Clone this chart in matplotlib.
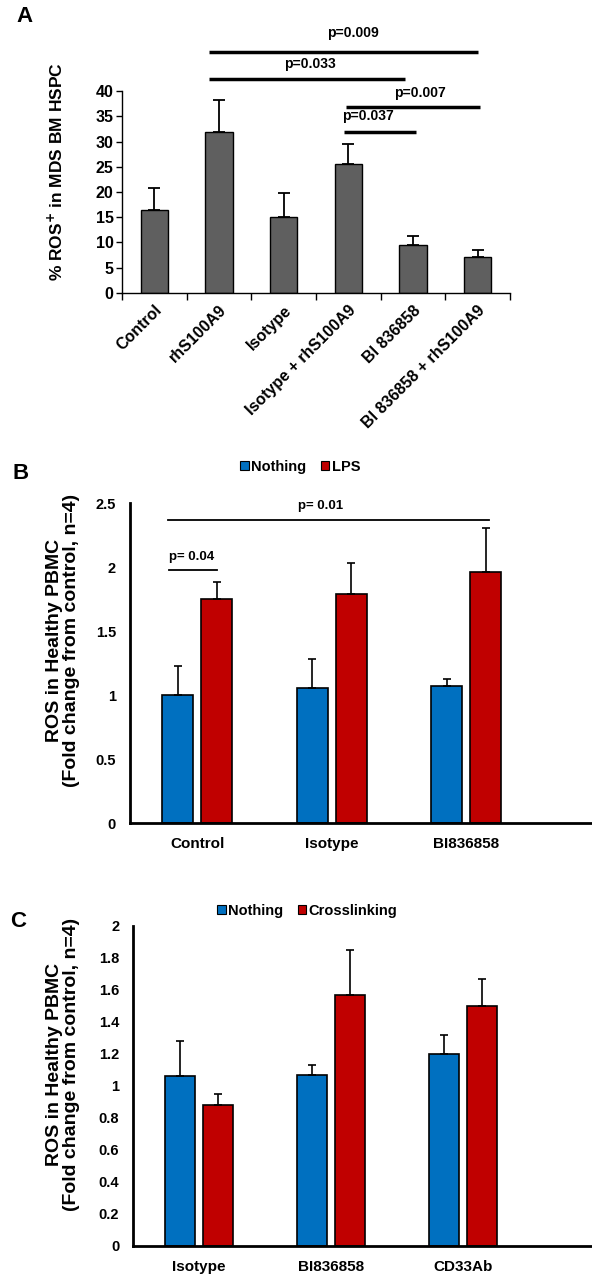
import numpy as np
import matplotlib.pyplot as plt

plt.rcParams['font.family'] = ['Liberation Sans', 'DejaVu Sans']
plt.rcParams['font.weight'] = 'bold'

# --- panel A data ---
a_labels = ['Control', 'rhS100A9', 'Isotype', 'Isotype + rhS100A9', 'BI 836858', 'BI 836858 + rhS100A9']
a_vals = [16.4, 31.9, 15.0, 25.5, 9.5, 7.2]
a_err = [4.3, 6.3, 4.9, 4.0, 1.8, 1.4]
# (start, end, level, text)
a_sig = [(0.85, 5.0, 47.7, 'p=0.009'),
         (0.85, 3.87, 42.3, 'p=0.033'),
         (2.96, 5.04, 36.8, 'p=0.007'),
         (2.93, 4.04, 31.9, 'p=0.037')]
a_sig_text = [(3.07, 51.5), (2.4, 45.3), (4.1, 39.7), (3.3, 35.1)]

# --- panel B data ---
b_groups = ['Control', 'Isotype', 'BI836858']
b_nothing = [1.00, 1.06, 1.07]
b_nothing_err = [0.23, 0.22, 0.06]
b_lps = [1.75, 1.79, 1.96]
b_lps_err = [0.135, 0.24, 0.35]
b_sig = [(-0.22, 2.17, 2.37, 'p= 0.01'),
         (-0.21, 0.15, 1.98, 'p= 0.04')]
b_sig_text = [(0.92, 2.48), (-0.045, 2.08)]

# --- panel C data ---
c_groups = ['Isotype', 'BI836858', 'CD33Ab']
c_nothing = [1.06, 1.07, 1.20]
c_nothing_err = [0.22, 0.06, 0.12]
c_cross = [0.88, 1.57, 1.50]
c_cross_err = [0.07, 0.28, 0.17]

BLUE = '#0070C0'
RED = '#C00000'
GRAY = '#5f5f5f'

fig = plt.figure(figsize=(5.92, 12.77), dpi=100)

# ================= A =================
axA = fig.add_axes([0.2061, 0.7706, 0.6554, 0.1581])
x = np.arange(len(a_labels))
axA.bar(x, a_vals, width=0.42, color=GRAY, edgecolor='black', linewidth=1.0, zorder=2)
axA.errorbar(x, a_vals, yerr=[np.zeros(len(a_err)), a_err], fmt='none',
             ecolor='black', elinewidth=1.3, capsize=4.3, capthick=1.3, zorder=3)
axA.set_xlim(-0.5, len(a_labels) - 0.5)
axA.set_ylim(0, 40)
axA.set_yticks(np.arange(0, 41, 5))
axA.tick_params(axis='y', labelsize=11.5, length=4, width=1.0, direction='out', pad=2)
axA.set_xticks(x)
axA.set_xticklabels(a_labels, rotation=45, ha='right', va='top', rotation_mode='anchor', fontsize=11.5)
axA.tick_params(axis='x', length=0, pad=7)
axA.set_xticks(np.arange(-0.5, len(a_labels)), minor=True)
axA.tick_params(axis='x', which='minor', length=5, width=1.0, direction='out')
for s in ['top', 'right']:
    axA.spines[s].set_visible(False)
for s in ['left', 'bottom']:
    axA.spines[s].set_linewidth(1.0)
axA.set_ylabel('% ROS$^{+}$ in MDS BM HSPC', fontsize=12.5, fontweight='bold')
axA.yaxis.set_label_coords(-0.145, 0.60)
for (x1, x2, lev, txt), (tx, ty) in zip(a_sig, a_sig_text):
    axA.plot([x1, x2], [lev, lev], color='black', lw=2.5, clip_on=False, solid_capstyle='butt')
    axA.text(tx, ty, txt, ha='center', va='center', fontsize=10, fontweight='bold', clip_on=False)

# ================= B =================
def grouped(ax, groups, s1, e1, s2, e2, off, w):
    xg = np.arange(len(groups))
    ax.bar(xg - off, s1, width=w, color=BLUE, edgecolor='black', linewidth=1.2, zorder=2)
    ax.bar(xg + off, s2, width=w, color=RED, edgecolor='black', linewidth=1.2, zorder=2)
    ax.errorbar(xg - off, s1, yerr=[np.zeros(len(e1)), e1], fmt='none', ecolor='black',
                elinewidth=1.2, capsize=2.6, capthick=1.2, zorder=3)
    ax.errorbar(xg + off, s2, yerr=[np.zeros(len(e2)), e2], fmt='none', ecolor='black',
                elinewidth=1.2, capsize=2.6, capthick=1.2, zorder=3)
    ax.set_xticks(xg)
    ax.set_xticklabels(groups, fontsize=11, fontweight='bold')
    ax.tick_params(axis='x', length=0, pad=10)
    ax.tick_params(axis='y', length=0, labelsize=10.5, pad=10)
    for s in ['top', 'right']:
        ax.spines[s].set_visible(False)
    for s in ['left', 'bottom']:
        ax.spines[s].set_linewidth(2.0)

axB = fig.add_axes([0.2196, 0.3553, 0.7804, 0.2506])
grouped(axB, b_groups, b_nothing, b_nothing_err, b_lps, b_lps_err, 0.145, 0.23)
axB.set_xlim(-0.5, 2.935)
axB.set_ylim(0, 2.5)
axB.set_yticks([0, 0.5, 1, 1.5, 2, 2.5])
axB.set_yticklabels(['0', '0.5', '1', '1.5', '2', '2.5'])
axB.set_ylabel('ROS in Healthy PBMC\n(Fold change from control, n=4)', fontsize=14,
               fontweight='bold', linespacing=1.0)
axB.yaxis.set_label_coords(-0.108, 0.57)
for (x1, x2, lev, txt), (tx, ty) in zip(b_sig, b_sig_text):
    axB.plot([x1, x2], [lev, lev], color='black', lw=1.3, clip_on=False)
    axB.text(tx, ty, txt, ha='center', va='center', fontsize=9.5, fontweight='bold')
hB = [plt.Rectangle((0, 0), 1, 1, facecolor=BLUE, edgecolor='black', lw=0.8),
      plt.Rectangle((0, 0), 1, 1, facecolor=RED, edgecolor='black', lw=0.8)]
fig.legend(hB, ['Nothing', 'LPS'], loc='center', bbox_to_anchor=(0.507, 0.6343), ncol=2,
           frameon=False, handlelength=0.6, handleheight=0.6, handletextpad=0.15,
           columnspacing=1.0, prop={'size': 10.5, 'weight': 'bold'})

# ================= C =================
axC = fig.add_axes([0.2247, 0.02428, 0.7753, 0.2506])
grouped(axC, c_groups, c_nothing, c_nothing_err, c_cross, c_cross_err, 0.142, 0.227)
axC.set_xlim(-0.5, 2.977)
axC.set_ylim(0, 2)
axC.set_yticks(np.arange(0, 2.01, 0.2))
axC.set_yticklabels(['0', '0.2', '0.4', '0.6', '0.8', '1', '1.2', '1.4', '1.6', '1.8', '2'])
axC.set_ylabel('ROS in Healthy PBMC\n(Fold change from control, n=4)', fontsize=14,
               fontweight='bold', linespacing=1.0)
axC.yaxis.set_label_coords(-0.115, 0.566)
hC = [plt.Rectangle((0, 0), 1, 1, facecolor=BLUE, edgecolor='black', lw=0.8),
      plt.Rectangle((0, 0), 1, 1, facecolor=RED, edgecolor='black', lw=0.8)]
fig.legend(hC, ['Nothing', 'Crosslinking'], loc='center', bbox_to_anchor=(0.519, 0.2868), ncol=2,
           frameon=False, handlelength=0.6, handleheight=0.6, handletextpad=0.15,
           columnspacing=1.0, prop={'size': 10.5, 'weight': 'bold'})

# panel letters
fig.text(0.042, 0.9867, 'A', fontsize=16, fontweight='bold', ha='center', va='center')
fig.text(0.034, 0.6296, 'B', fontsize=16, fontweight='bold', ha='center', va='center')
fig.text(0.030, 0.2780, 'C', fontsize=16, fontweight='bold', ha='center', va='center')

fig.savefig('out.png', dpi=100)
